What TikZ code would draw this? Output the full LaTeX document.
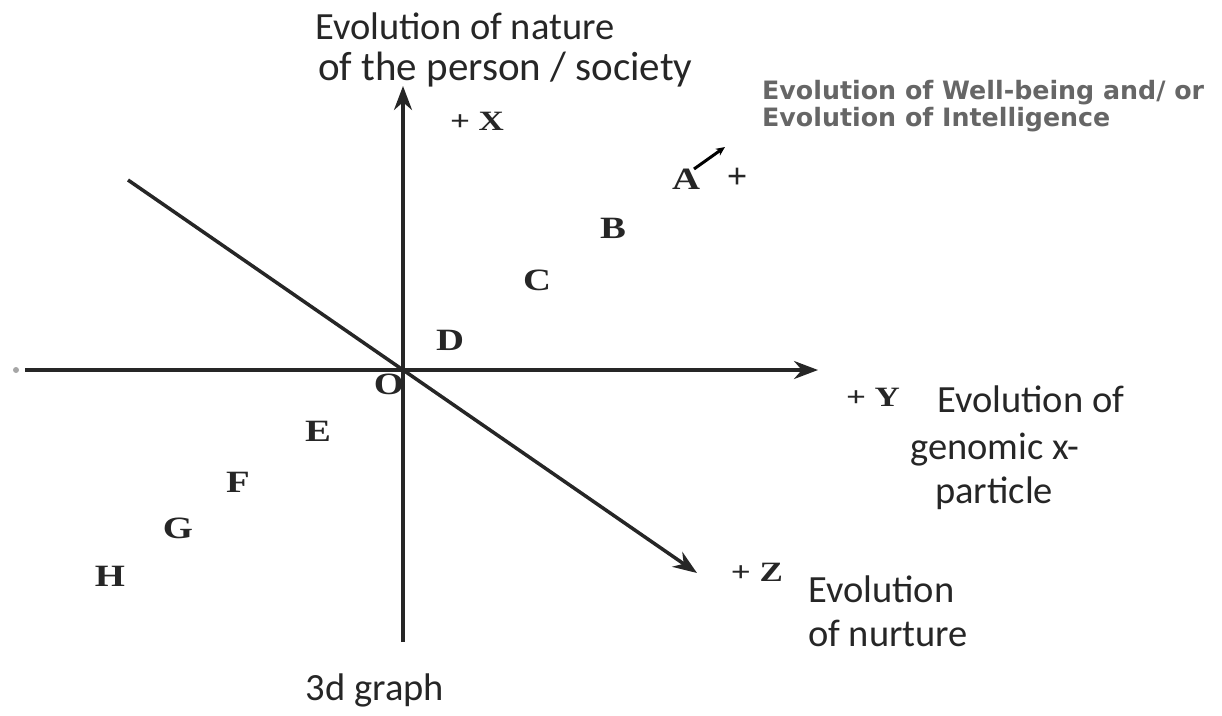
\documentclass[tikz,border=0pt]{standalone}
\usepackage{fontspec}
\setmainfont{Carlito}
\newfontfamily\serifletters{Liberation Serif}
\newfontfamily\notefont{DejaVu Sans}
\usetikzlibrary{arrows.meta,positioning}
\newcommand{\widened}[1]{\scalebox{1.25}[1]{#1}}

\begin{document}
\begin{tikzpicture}[
    x=1pt, y=-1pt,
    axis/.style={line width=3.5pt, draw=black!85, -{Stealth[length=24pt, width=18pt]}},
    ptlabel/.style={font=\serifletters\bfseries\fontsize{31}{32}\selectfont, text=black!85, inner sep=0pt},
    axislabel/.style={font=\serifletters\bfseries\fontsize{28}{30}\selectfont, text=black!85, inner sep=0pt},
    caption/.style={font=\fontsize{38.5}{46}\selectfont, text=black!85, anchor=west, inner sep=0pt, align=left},
    note/.style={font=\notefont\bfseries\fontsize{25.3}{27}\selectfont, text=black!60, anchor=west, inner sep=0pt, align=left}
]
    \useasboundingbox (0,0) rectangle (1222,715);

    % end points of the three axes
    \coordinate (xbot) at (403,642);
    \coordinate (xtop) at (403,86);
    \coordinate (yleft) at (25,370);
    \coordinate (yright) at (818,370);
    \coordinate (zstart) at (128,180);
    \coordinate (zend) at (697,573);
    \coordinate (dotleft) at (16,370);

    % axes
    \draw[axis] (xbot) -- (xtop);
    \draw[axis] (yleft) -- (yright);
    \draw[axis] (zstart) -- (zend);
    \fill[black!35] (dotleft) circle (3);

    % axis captions
    \node[caption] (xcap1) at (315,26) {Evolution of nature};
    \node[caption, font=\fontsize{41}{46}\selectfont] (xcap2) at (318,70) {of the person / society};
    \node[axislabel] (plusx) at (477,121) {\widened{+ X}};

    \node[axislabel] (plusy) at (873,397) {\widened{+ Y}};
    \node[caption] (ycap1) at (937,399) {Evolution of};
    \node[caption] (ycap2) at (910,450) {genomic x-};
    \node[caption] (ycap3) at (935,493) {particle};

    \node[axislabel] (plusz) at (757,572) {\widened{+ Z}};
    \node[caption] (zcap1) at (808,589) {Evolution};
    \node[caption] (zcap2) at (808,633) {of nurture};

    \node[caption, anchor=center] (title) at (375,690) {3d graph};

    % note on the well-being direction
    \node[note] (wellbeing) at (762,106) {Evolution of Well-being and/ or\\Evolution of Intelligence};

    % points along the path
    \node[ptlabel] (ptO) at (389,384) {\widened{O}};
    \node[ptlabel] (ptA) at (686,179) {\widened{A}};
    \node[axislabel, font=\serifletters\bfseries\fontsize{36}{38}\selectfont] (plusa) at (737,178) {+};
    \node[ptlabel] (ptB) at (613,228) {\widened{B}};
    \node[ptlabel] (ptC) at (537,280) {\widened{C}};
    \node[ptlabel] (ptD) at (450,340) {\widened{D}};
    \node[ptlabel] (ptE) at (318,431) {\widened{E}};
    \node[ptlabel] (ptF) at (238,482) {\widened{F}};
    \node[ptlabel] (ptG) at (178,528) {\widened{G}};
    \node[ptlabel] (ptH) at (110,576) {\widened{H}};

    \coordinate (astart) at (694,169);
    \coordinate (aend) at (725,147);
    \draw[line width=3pt, -{Stealth[length=9pt, width=8pt]}] (astart) -- (aend);

\end{tikzpicture}
\end{document}
